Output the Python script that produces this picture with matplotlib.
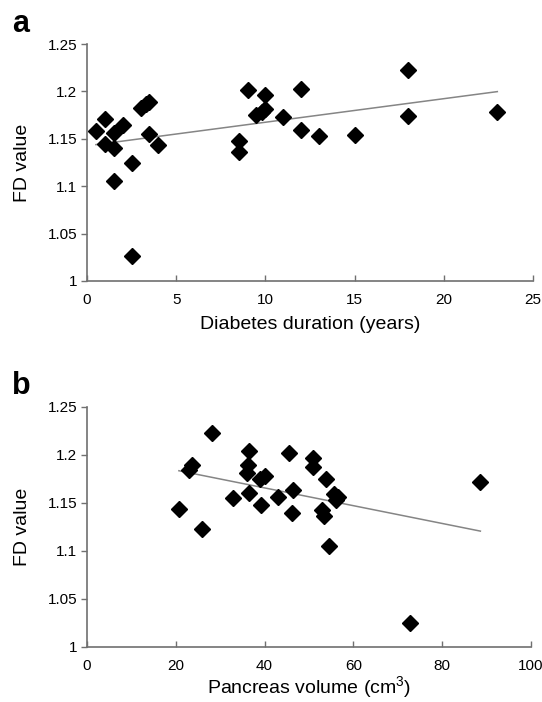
import matplotlib
matplotlib.use("Agg")
import matplotlib.pyplot as plt
import numpy as np

plt.rcParams['font.family'] = ['Liberation Sans', 'DejaVu Sans']
plt.rcParams['mathtext.fontset'] = 'custom'
plt.rcParams['mathtext.rm'] = 'Liberation Sans'

# Panel a: diabetes duration (years) vs FD value
duration = [0.5, 1.0, 1.0, 1.5, 1.5, 1.5, 2.0, 2.5, 2.5, 3.0, 3.3, 3.5, 3.5, 4.0,
            8.5, 8.5, 9.0, 9.5, 9.8, 10.0, 10.0, 11.0, 12.0, 12.0, 13.0, 15.0,
            18.0, 18.0, 23.0]
fd_a = [1.158, 1.171, 1.145, 1.156, 1.140, 1.105, 1.165, 1.124, 1.026, 1.183,
        1.187, 1.189, 1.155, 1.143, 1.148, 1.136, 1.201, 1.175, 1.178, 1.181,
        1.196, 1.173, 1.203, 1.159, 1.153, 1.154, 1.223, 1.174, 1.178]

# Panel b: pancreas volume (cm3) vs FD value
volume = [20.7, 23.0, 23.6, 25.8, 28.2, 32.8, 36.4, 36.3, 36.1, 36.4, 39.0, 40.0,
          39.3, 43.1, 45.5, 46.3, 46.1, 50.9, 50.8, 53.9, 52.9, 53.4, 54.6, 55.7,
          56.5, 56.0, 72.8, 88.6]
fd_b = [1.144, 1.184, 1.190, 1.123, 1.223, 1.155, 1.204, 1.190, 1.181, 1.160,
        1.175, 1.178, 1.148, 1.156, 1.202, 1.164, 1.140, 1.197, 1.187, 1.175,
        1.143, 1.136, 1.105, 1.159, 1.156, 1.153, 1.025, 1.172]

yticks = [1, 1.05, 1.1, 1.15, 1.2, 1.25]
ytick_labels = ['1', '1.05', '1.1', '1.15', '1.2', '1.25']
xticks_a = [0, 5, 10, 15, 20, 25]
xticks_b = [0, 20, 40, 60, 80, 100]

W, H = 542, 702
fig = plt.figure(figsize=(W / 100, H / 100), dpi=100)

def make_ax(left, top, right, bottom):
    return fig.add_axes([left / W, 1 - bottom / H, (right - left) / W, (bottom - top) / H])

ax_a = make_ax(87, 44, 533, 281)
ax_b = make_ax(87, 407, 531, 647)

axis_col = '#707070'

def style(ax, x, y, xticks, xlabel, labelpad):
    ax.plot(x, y, linestyle='none', marker='D', markersize=8.5,
            color='black', zorder=3)
    coef = np.polyfit(x, y, 1)
    xs = np.array([min(x), max(x)])
    ax.plot(xs, np.polyval(coef, xs), color='#858585', linewidth=1.1, zorder=2)
    ax.set_xlim(xticks[0], xticks[-1])
    ax.set_ylim(1, 1.25)
    ax.set_xticks(xticks)
    ax.set_yticks(yticks)
    ax.set_yticklabels(ytick_labels)
    for s in ['top', 'right']:
        ax.spines[s].set_visible(False)
    for s in ['left', 'bottom']:
        ax.spines[s].set_color(axis_col)
        ax.spines[s].set_linewidth(1.2)
    ax.tick_params(axis='x', direction='in', length=4, width=1, color=axis_col,
                   labelsize=11, pad=9, labelcolor='black')
    ax.tick_params(axis='y', direction='out', length=4, width=1, color=axis_col,
                   labelsize=11, pad=3, labelcolor='black')
    ax.set_xlabel(xlabel, fontsize=14, labelpad=labelpad)
    ax.set_ylabel('FD value', fontsize=14)
    ax.yaxis.set_label_coords(-0.125, 0.5)

style(ax_a, duration, fd_a, xticks_a, 'Diabetes duration (years)', 6)
style(ax_b, volume, fd_b, xticks_b, 'Pancreas volume (cm$^{3}$)', 0.5)

fig.text(12 / W, 1 - 32 / H, 'a', fontsize=22, fontweight='bold', va='baseline')
fig.text(12 / W, 1 - 394 / H, 'b', fontsize=22, fontweight='bold', va='baseline')

fig.savefig('out.png', dpi=100)
